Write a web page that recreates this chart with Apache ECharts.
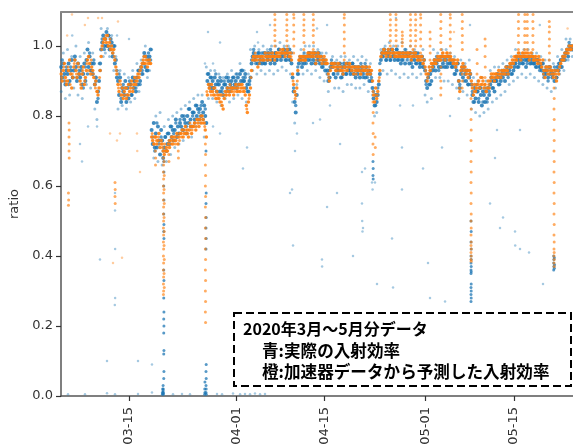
<!DOCTYPE html>
<html><head><meta charset="utf-8">
<script src="https://cdn.jsdelivr.net/npm/echarts/dist/echarts.min.js"></script>
<style>html,body{margin:0;padding:0;background:#fff}#c{width:573px;height:448px}</style>
</head><body><div id="c"></div>
<script>
// ---------- data (x in days since 2020-03-01 00:00 UTC for point lists) ----------
const tickDates = ['2020-03-15','2020-04-01','2020-04-15','2020-05-01','2020-05-15'];
const yTicks = [0, 0.2, 0.4, 0.6, 0.8, 1.0];
const coreStart = '2020-03-04T06:00:00Z';
const coreStepHours = 4;
const spreadStepHours = 8;

// blue (actual) dense band, one value every 4 h from coreStart, one row per day (Mar 4 ... May 24)
const blueCore = [
0.94,0.91,0.95,0.92,0.89,0.93,
0.92,0.95,0.90,0.93,0.96,0.91,
0.93,0.97,0.94,0.90,0.95,0.92,
0.91,0.94,0.89,0.92,0.95,0.90,
0.96,0.99,0.94,0.97,0.93,0.95,
0.92,0.95,0.89,0.91,0.84,0.87,
0.90,0.95,0.99,1.01,1.03,1.00,
1.02,1.04,1.00,1.03,0.99,1.02,
1.01,0.97,1.00,0.95,0.96,0.91,
0.90,0.86,0.91,0.84,0.88,0.87,
0.86,0.90,0.84,0.88,0.85,0.89,
0.89,0.86,0.91,0.88,0.90,0.87,
0.91,0.89,0.93,0.90,0.94,0.92,
0.95,0.98,0.94,0.97,0.93,0.96,
0.97,0.99,0.76,0.72,0.78,0.71,
0.75,0.71,0.77,0.73,0.69,0.76,
0.73,0.68,0.71,0.74,0.70,0.72,
0.75,0.72,0.77,0.74,0.76,0.73,
0.76,0.79,0.74,0.77,0.75,0.78,
0.77,0.80,0.76,0.79,0.78,0.75,
0.80,0.78,0.82,0.79,0.77,0.81,
0.81,0.79,0.83,0.80,0.82,0.79,
0.82,0.80,0.84,0.81,0.83,0.80,
0.78,0.90,0.92,0.89,0.91,0.88,
0.90,0.88,0.91,0.89,0.87,0.90,
0.89,0.87,0.90,0.88,0.86,0.89,
0.89,0.91,0.88,0.90,0.87,0.89,
0.90,0.88,0.91,0.89,0.90,0.88,
0.91,0.89,0.92,0.90,0.93,0.90,
0.90,0.92,0.88,0.89,0.87,0.90,
0.91,0.95,0.97,0.98,0.96,0.97,
0.97,0.95,0.98,0.96,0.97,0.95,
0.96,0.98,0.95,0.97,0.96,0.98,
0.97,0.95,0.98,0.96,0.97,0.95,
0.98,0.96,0.97,0.99,0.97,0.96,
0.98,0.97,0.99,0.98,0.96,0.98,
0.97,0.99,0.96,0.95,0.91,0.87,
0.84,0.81,0.86,0.92,0.95,0.96,
0.96,0.94,0.97,0.95,0.96,0.97,
0.97,0.96,0.98,0.97,0.95,0.97,
0.96,0.98,0.95,0.97,0.96,0.98,
0.95,0.97,0.94,0.96,0.95,0.93,
0.95,0.93,0.90,0.91,0.94,0.95,
0.94,0.92,0.95,0.91,0.93,0.94,
0.93,0.95,0.91,0.94,0.92,0.95,
0.94,0.92,0.95,0.93,0.94,0.92,
0.93,0.95,0.92,0.94,0.91,0.93,
0.92,0.94,0.91,0.93,0.94,0.92,
0.93,0.91,0.94,0.92,0.93,0.90,
0.92,0.90,0.88,0.85,0.83,0.86,
0.84,0.86,0.89,0.92,0.96,0.98,
0.97,0.99,0.98,0.96,0.98,0.97,
0.98,0.96,0.99,0.97,0.98,0.96,
0.97,0.99,0.96,0.98,0.97,0.95,
0.96,0.98,0.97,0.95,0.98,0.97,
0.97,0.95,0.98,0.96,0.94,0.97,
0.96,0.98,0.95,0.97,0.96,0.94,
0.95,0.97,0.94,0.96,0.93,0.90,
0.88,0.91,0.89,0.92,0.90,0.93,
0.94,0.96,0.93,0.95,0.96,0.94,
0.96,0.94,0.97,0.95,0.96,0.94,
0.96,0.94,0.97,0.95,0.96,0.95,
0.94,0.95,0.92,0.94,0.93,0.95,
0.90,0.88,0.92,0.93,0.91,0.94,
0.92,0.90,0.93,0.89,0.91,0.92,
0.89,0.86,0.84,0.88,0.85,0.87,
0.87,0.84,0.88,0.86,0.83,0.87,
0.86,0.84,0.87,0.85,0.88,0.86,
0.89,0.91,0.88,0.90,0.87,0.90,
0.90,0.92,0.89,0.91,0.90,0.92,
0.91,0.93,0.90,0.92,0.94,0.92,
0.93,0.94,0.92,0.95,0.93,0.94,
0.95,0.97,0.94,0.96,0.95,0.97,
0.96,0.95,0.97,0.96,0.94,0.96,
0.96,0.97,0.95,0.96,0.97,0.95,
0.95,0.96,0.94,0.96,0.95,0.94,
0.94,0.93,0.95,0.92,0.93,0.92,
0.93,0.91,0.94,0.92,0.93,0.91,
0.92,0.90,0.93,0.91,0.94,0.93,
0.95,0.96,0.94,0.96,0.97,0.96,
0.98,0.99,0.97,1.00,0.99,1.00,
0.99,1.00
];

// orange (predicted) dense band, one value every 4 h from coreStart
const orangeCore = [
0.92,0.90,0.93,0.95,0.91,0.89,
0.90,0.93,0.96,0.92,0.88,0.91,
0.94,0.96,0.93,0.91,0.95,0.92,
0.90,0.88,0.92,0.94,0.89,0.91,
0.93,0.96,0.97,0.95,0.92,0.94,
0.93,0.91,0.89,0.90,0.87,0.86,
0.88,0.93,0.97,1.00,1.01,1.02,
1.02,1.01,1.03,1.00,1.01,0.99,
1.00,0.98,0.99,0.96,0.94,0.92,
0.89,0.87,0.90,0.86,0.88,0.85,
0.87,0.88,0.85,0.86,0.89,0.87,
0.88,0.90,0.87,0.89,0.91,0.89,
0.90,0.92,0.91,0.93,0.94,0.95,
0.96,0.95,0.97,0.96,0.94,0.95,
0.96,0.95,0.74,0.73,0.72,0.74,
0.74,0.72,0.73,0.75,0.71,0.73,
0.72,0.70,0.69,0.70,0.71,0.70,
0.72,0.71,0.73,0.74,0.72,0.73,
0.74,0.73,0.75,0.72,0.74,0.75,
0.75,0.76,0.74,0.75,0.77,0.75,
0.76,0.74,0.76,0.77,0.75,0.77,
0.77,0.78,0.76,0.79,0.78,0.77,
0.79,0.78,0.80,0.79,0.78,0.76,
0.74,0.86,0.89,0.88,0.87,0.89,
0.87,0.86,0.88,0.85,0.87,0.86,
0.85,0.84,0.86,0.83,0.82,0.85,
0.87,0.86,0.88,0.87,0.86,0.88,
0.87,0.88,0.86,0.88,0.89,0.87,
0.88,0.89,0.87,0.88,0.89,0.88,
0.87,0.86,0.83,0.81,0.84,0.86,
0.88,0.93,0.96,0.97,0.96,0.97,
0.96,0.94,0.97,0.96,0.97,0.96,
0.97,0.96,0.98,0.97,0.96,0.97,
0.97,0.96,0.97,0.98,0.97,0.96,
0.97,0.98,0.97,0.98,0.97,0.98,
0.98,0.99,0.98,0.97,0.98,0.99,
0.98,0.97,0.98,0.96,0.92,0.89,
0.87,0.86,0.88,0.93,0.96,0.97,
0.96,0.97,0.96,0.97,0.96,0.97,
0.97,0.98,0.97,0.98,0.97,0.98,
0.97,0.98,0.95,0.97,0.98,0.97,
0.96,0.97,0.95,0.96,0.97,0.95,
0.96,0.95,0.92,0.90,0.93,0.95,
0.95,0.94,0.95,0.93,0.94,0.95,
0.94,0.93,0.94,0.93,0.92,0.94,
0.94,0.95,0.93,0.94,0.95,0.94,
0.93,0.94,0.92,0.94,0.93,0.94,
0.93,0.94,0.93,0.92,0.94,0.93,
0.94,0.93,0.94,0.92,0.93,0.94,
0.92,0.93,0.90,0.86,0.84,0.88,
0.85,0.87,0.90,0.93,0.97,0.98,
0.98,0.99,0.98,0.97,0.98,0.99,
0.98,0.97,0.98,0.99,0.98,0.97,
0.98,0.97,0.98,0.97,0.98,0.97,
0.97,0.98,0.97,0.98,0.97,0.98,
0.98,0.97,0.98,0.96,0.97,0.98,
0.97,0.98,0.97,0.96,0.97,0.96,
0.96,0.97,0.95,0.96,0.94,0.92,
0.90,0.92,0.94,0.93,0.95,0.94,
0.95,0.96,0.95,0.96,0.97,0.96,
0.97,0.96,0.97,0.98,0.97,0.96,
0.97,0.98,0.97,0.96,0.97,0.96,
0.96,0.95,0.96,0.94,0.95,0.96,
0.90,0.87,0.93,0.94,0.95,0.93,
0.94,0.92,0.93,0.91,0.93,0.92,
0.90,0.88,0.86,0.89,0.87,0.88,
0.89,0.90,0.88,0.91,0.89,0.90,
0.88,0.89,0.87,0.88,0.90,0.88,
0.90,0.92,0.91,0.92,0.90,0.92,
0.92,0.91,0.93,0.92,0.91,0.93,
0.92,0.93,0.92,0.94,0.93,0.92,
0.94,0.95,0.94,0.96,0.95,0.96,
0.97,0.96,0.97,0.98,0.97,0.96,
0.97,0.98,0.97,0.98,0.97,0.98,
0.97,0.96,0.97,0.98,0.97,0.96,
0.96,0.97,0.96,0.95,0.97,0.96,
0.95,0.94,0.96,0.93,0.91,0.94,
0.93,0.94,0.92,0.94,0.93,0.92,
0.91,0.93,0.92,0.90,0.93,0.92,
0.94,0.95,0.96,0.97,0.96,0.97,
0.98,0.99,0.98,1.00,0.99,0.99,
1.00,0.99
];

// extra orange samples, one every 8 h starting 2020-03-04 08:00
const orangeExtraStart = '2020-03-04T08:00:00Z';
const orangeExtra = [
0.91,0.94,0.90, 0.94,0.89,0.92, 0.95,0.92,0.94, 0.89,0.93,0.90, 0.95,0.93,0.96,
0.92,0.88,0.87, 0.91,0.99,1.02, 1.03,1.00,1.02, 0.99,0.97,0.93, 0.88,0.89,0.86,
0.86,0.88,0.86, 0.89,0.88,0.90, 0.91,0.92,0.94, 0.97,0.95,0.96, 0.95,0.75,0.72,
0.73,0.74,0.72, 0.71,0.72,0.70, 0.73,0.72,0.74, 0.72,0.74,0.73, 0.74,0.76,0.76,
0.75,0.78,0.76, 0.78,0.77,0.79, 0.80,0.78,0.77, 0.87,0.88,0.86, 0.88,0.86,0.85,
0.86,0.84,0.86, 0.86,0.87,0.89, 0.88,0.87,0.88, 0.87,0.89,0.87, 0.88,0.82,0.85,
0.91,0.97,0.98, 0.97,0.95,0.97, 0.96,0.97,0.98, 0.98,0.97,0.97, 0.98,0.97,0.99,
0.99,0.98,0.98, 0.97,0.97,0.90, 0.85,0.90,0.96, 0.97,0.96,0.96, 0.98,0.97,0.98,
0.98,0.96,0.98, 0.97,0.96,0.96, 0.95,0.91,0.94, 0.94,0.94,0.93, 0.95,0.93,0.93,
0.93,0.94,0.95, 0.94,0.93,0.92, 0.94,0.92,0.93, 0.93,0.93,0.92, 0.93,0.87,0.86,
0.86,0.91,0.97, 0.99,0.98,0.98, 0.97,0.99,0.98, 0.97,0.98,0.98, 0.98,0.97,0.97,
0.97,0.97,0.99, 0.98,0.96,0.97, 0.97,0.95,0.93, 0.91,0.93,0.95, 0.96,0.95,0.96,
0.96,0.98,0.97, 0.98,0.97,0.97, 0.95,0.95,0.95, 0.88,0.94,0.94, 0.93,0.92,0.93,
0.89,0.87,0.88, 0.90,0.89,0.91, 0.89,0.87,0.89, 0.91,0.91,0.91, 0.91,0.92,0.92,
0.93,0.93,0.93, 0.95,0.95,0.97, 0.96,0.98,0.97, 0.98,0.97,0.97, 0.98,0.97,0.97,
0.97,0.96,0.96, 0.94,0.92,0.93, 0.92,0.93,0.93, 0.92,0.91,0.93, 0.95,0.96,0.98,
0.99,0.99,1.00, 1.00
];

// blue lighter spread around the band, one value every 8 h from coreStart
const blueSpread = [
0.87,0.98,0.85, 0.99,0.86,0.97, 0.88,1.00,0.86, 0.97,0.85,0.98, 0.89,1.01,0.88,
0.98,0.82,0.79, 0.95,1.05,0.97, 0.98,1.05,0.97, 1.03,0.93,0.97, 0.82,0.93,0.83,
0.92,0.82,0.91, 0.84,0.93,0.85, 0.95,0.87,0.96, 0.92,1.00,0.91, 0.93,0.99,0.68,
0.80,0.67,0.81, 0.66,0.77,0.67, 0.79,0.69,0.80, 0.71,0.81,0.72, 0.82,0.73,0.83,
0.75,0.84,0.74, 0.85,0.77,0.86, 0.78,0.86,0.74, 0.94,0.85,0.93, 0.85,0.93,0.84,
0.92,0.83,0.91, 0.85,0.92,0.84, 0.93,0.85,0.92, 0.86,0.95,0.85, 0.93,0.84,0.92,
0.99,0.93,1.00, 0.92,0.99,0.93, 1.00,0.92,0.99, 0.93,1.00,0.92, 1.00,0.93,1.01,
0.94,1.00,0.93, 1.00,0.92,0.84, 0.78,0.89,0.92, 0.99,0.92,1.00, 0.93,1.00,0.92,
1.00,0.93,0.99, 0.91,0.98,0.90, 0.98,0.87,0.91, 0.97,0.88,0.96, 0.88,0.97,0.87,
0.97,0.89,0.96, 0.89,0.97,0.88, 0.96,0.88,0.97, 0.89,0.96,0.87, 0.95,0.86,0.80,
0.81,0.90,0.99, 0.93,1.00,0.92, 1.01,0.93,1.00, 0.92,1.00,0.91, 1.01,0.92,0.99,
0.91,1.00,0.92, 0.99,0.91,0.98, 0.92,0.99,0.86, 0.84,0.94,0.85, 0.99,0.91,0.98,
0.91,0.99,0.90, 0.99,0.90,0.98, 0.89,0.97,0.88, 0.85,0.96,0.87, 0.95,0.86,0.96,
0.82,0.91,0.81, 0.90,0.80,0.91, 0.81,0.90,0.82, 0.93,0.84,0.94, 0.85,0.94,0.86,
0.95,0.87,0.96, 0.89,0.97,0.90, 0.99,0.91,0.98, 0.92,0.99,0.91, 0.99,0.92,0.98,
0.91,0.98,0.90, 0.97,0.89,0.96, 0.88,0.96,0.87, 0.95,0.88,0.97, 0.92,0.99,0.93,
1.02,0.96,1.02, 0.97
];

// extra blue samples, one every 8 h starting 2020-03-04 10:00
const blueExtraStart = '2020-03-04T10:00:00Z';
const blueExtra = [
0.96,0.90,0.94, 0.89,0.94,0.91, 0.96,0.91,0.93, 0.93,0.88,0.94, 0.92,0.98,0.93,
0.96,0.90,0.85, 0.93,1.02,0.99, 1.00,1.03,1.00, 0.98,1.00,0.93, 0.92,0.85,0.89,
0.88,0.86,0.90, 0.86,0.90,0.88, 0.93,0.89,0.93, 0.97,0.93,0.98, 0.96,0.74,0.70,
0.78,0.72,0.74, 0.70,0.74,0.75, 0.73,0.77,0.75, 0.78,0.75,0.79, 0.76,0.80,0.77,
0.82,0.77,0.80, 0.78,0.83,0.81, 0.83,0.79,0.82, 0.92,0.88,0.91, 0.88,0.92,0.89,
0.91,0.87,0.90, 0.87,0.91,0.88, 0.91,0.88,0.92, 0.89,0.93,0.91, 0.91,0.87,0.89,
0.96,0.99,0.95, 0.98,0.95,0.98, 0.95,0.98,0.96, 0.99,0.96,0.98, 0.96,0.99,0.97,
0.99,0.96,0.99, 0.96,0.98,0.88, 0.83,0.94,0.97, 0.95,0.98,0.95, 0.98,0.96,0.98,
0.95,0.98,0.96, 0.97,0.94,0.96, 0.92,0.93,0.96, 0.92,0.95,0.92, 0.95,0.91,0.94,
0.92,0.95,0.93, 0.95,0.92,0.94, 0.93,0.95,0.91, 0.95,0.91,0.93, 0.91,0.87,0.83,
0.88,0.95,0.97, 0.99,0.96,0.99, 0.96,0.99,0.97, 0.99,0.96,0.98, 0.96,0.99,0.96,
0.98,0.95,0.98, 0.95,0.98,0.95, 0.97,0.94,0.89, 0.92,0.89,0.94, 0.95,0.97,0.93,
0.97,0.94,0.97, 0.95,0.97,0.94, 0.96,0.92,0.95, 0.89,0.94,0.90, 0.93,0.89,0.92,
0.87,0.84,0.89, 0.85,0.88,0.84, 0.88,0.84,0.87, 0.90,0.88,0.91, 0.91,0.89,0.93,
0.92,0.94,0.91, 0.95,0.92,0.95, 0.96,0.94,0.97, 0.95,0.97,0.95, 0.97,0.95,0.96,
0.94,0.96,0.93, 0.95,0.91,0.94, 0.90,0.94,0.92, 0.94,0.91,0.95, 0.94,0.97,0.98,
0.98,1.01,0.99, 1.00
];

// vertical runs of points: [day, [values...]]
const blueDips = [
[19.50,[0.67,0.64,0.60,0.56,0.52,0.49,0.47,0.45,0.36,0.33,0.28,0.24,0.22,0.20,0.18,0.13,0.12,0.07,0.05]],
[19.40,[0.03,0.02,0.015,0.01,0.008,0.005]],
[19.30,[0.01,0.02,0.005]],
[26.20,[0.70,0.58,0.55,0.51,0.48,0.45,0.42,0.09,0.07,0.05,0.03,0.02,0.01,0.005]],
[26.00,[0.02,0.01,0.005,0.04]],
[52.66,[0.67,0.65,0.63,0.62]],
[68.20,[0.50,0.47,0.44,0.42,0.40,0.39,0.38,0.37,0.36,0.355,0.35,0.32,0.31,0.30,0.29,0.28,0.27]],
[81.30,[0.40,0.39,0.38,0.37,0.36]],
[81.40,[0.395,0.375,0.365]]
];
const orangeDips = [
[4.49,[0.78,0.76,0.74,0.72,0.70,0.68]],
[4.40,[0.58,0.56,0.545]],
[11.78,[0.61,0.59,0.57,0.55]],
[18.20,[0.70,0.68,0.66]],
[20.30,[0.69,0.67]],
[21.80,[0.70,0.68]],
[19.45,[0.68,0.66,0.64,0.62,0.60,0.58,0.56,0.54,0.52,0.50,0.48,0.46,0.44,0.42,0.40,0.38,0.36,0.34,0.32,0.30,0.29]],
[19.55,[0.67,0.63,0.59,0.55,0.51,0.47,0.43,0.39,0.35,0.31]],
[26.10,[0.72,0.69,0.66,0.63,0.60,0.57,0.54,0.51,0.48,0.45,0.42,0.39,0.36,0.33,0.30,0.27,0.24,0.21]],
[52.66,[0.84,0.81,0.78,0.75,0.72,0.69]],
[53.00,[0.74,0.71]],
[68.20,[0.85,0.82,0.79,0.76,0.73,0.70,0.67,0.64,0.61,0.58,0.55,0.52,0.50,0.48,0.46,0.44,0.43,0.42,0.41,0.40,0.39,0.385]],
[81.35,[0.88,0.85,0.82,0.79,0.76,0.73,0.70,0.67,0.64,0.61,0.58,0.55,0.52,0.49,0.46,0.44,0.42,0.41,0.40,0.39,0.38,0.37]]
];
const orangeSpikes = [
[37.10,[1.00,1.015,1.03,1.045,1.06,1.075,1.09]],
[39.00,[1.00,1.015,1.03,1.045,1.06,1.075,1.09]],
[40.10,[0.98,1.00,1.02,1.04,1.06,1.08,1.09]],
[41.70,[0.99,1.01,1.03,1.045,1.06,1.075,1.09]],
[43.20,[0.99,1.01,1.03,1.045,1.06,1.075,1.09]],
[48.10,[0.96,0.98,1.00,1.02,1.04,1.06,1.08,1.09]],
[55.40,[1.00,1.015,1.03,1.045,1.06,1.075,1.09]],
[56.30,[1.00,1.015,1.03,1.045,1.06,1.075,1.09]],
[57.30,[1.00,1.01,1.02,1.03,1.04]],
[58.60,[1.00,1.015,1.03,1.045,1.06,1.075,1.09]],
[59.40,[1.00,1.015,1.03,1.045,1.06,1.075,1.09]],
[60.20,[0.98,1.00,1.02,1.04,1.06,1.08,1.09]],
[61.70,[0.96,0.98,1.00,1.02,1.04]],
[63.40,[0.86,0.88,0.90,0.92,0.94,0.99,1.01,1.03,1.05,1.07,1.09]],
[64.90,[0.98,1.00,1.02,1.04,1.06,1.08,1.09]],
[66.80,[0.88,0.90,0.92,0.99,1.01,1.03,1.05,1.07,1.09]],
[69.15,[0.92,0.95,0.99]],
[70.42,[0.91,0.94,0.97,1.00,1.02]],
[75.70,[0.99,1.01,1.03,1.05,1.07,1.09]],
[76.70,[0.99,1.01,1.03,1.05,1.07,1.09]],
[77.10,[0.99,1.01,1.03,1.05,1.07,1.09]],
[78.00,[0.99,1.01,1.03,1.05,1.07,1.09]],
[80.60,[0.96,0.98,1.00,1.02,1.04,1.055,1.07]]
];
// isolated points: [day, value]
const blueScatter = [
[9.40,0.39],[11.78,0.58],[11.78,0.53],[11.80,0.42],[11.80,0.28],[11.75,0.26],[6.23,0.72],[6.55,0.67],
[8.93,0.77],[7.50,0.77],[10.51,0.10],[15.42,0.10],[17.64,0.09],[39.83,0.59],[46.96,0.58],[45.38,0.54],
[50.92,0.55],[50.95,0.50],[51.08,0.48],[51.00,0.47],[39.99,0.43],[49.50,0.40],[44.58,0.39],[44.60,0.37],
[53.30,0.32],[52.51,0.61],[52.60,0.59],[52.98,0.61],[57.26,0.59],[55.68,0.45],[61.38,0.38],[55.84,0.31],
[61.70,0.28],[64.08,0.27],[71.21,0.55],[73.27,0.51],[72.79,0.48],[75.17,0.47],[75.20,0.43],[75.96,0.42],
[77.39,0.41],[79.61,0.32],[57.26,0.71],[63.60,0.71],[60.59,0.65],[72.00,0.68],[72.32,0.76],[64.87,0.80],
[56.95,0.83],[59.00,0.83],[75.96,0.76],[39.51,0.58],[40.30,0.70],[40.62,0.75],[47.44,0.72],[43.16,0.78],
[44.27,0.79],[45.85,0.83],[50.92,0.64],[51.40,0.65],[28.42,0.75],[27.31,0.77],[32.70,0.71],[32.06,0.65],
[26.04,0.95],[27.31,0.95],[28.42,1.01],[26.52,1.04],[34.28,1.04],[34.44,1.01],[36.34,1.06],[45.38,1.06],
[43.79,1.05],[56.30,1.08],[68.04,1.06],[79.10,1.06],[5.00,1.03],[12.10,1.03],[14.00,1.02],
[4.33,0.005],[7.02,0.005],[10.51,0.008],[11.78,0.005],[15.42,0.006],[17.64,0.01],[20.97,0.005],[22.40,0.006],
[23.66,0.005],[27.94,0.006],[28.74,0.005],[30.48,0.007],[31.60,0.005],[32.38,0.006],[33.17,0.005],
[33.96,0.007],[34.76,0.005],[35.55,0.006]
];
const orangeScatter = [
[4.96,1.09],[7.50,1.08],[9.72,1.08],[12.25,1.07],[15.26,0.75],[15.30,0.70],[15.74,0.64],[10.99,0.75],
[12.57,0.75],[12.09,0.73],[11.46,0.38],[12.89,0.395],[4.20,1.03],[7.00,1.06],[9.10,1.08],[65.50,1.04],
[83.50,1.05]
];

// ---------- build ----------
const DAY = 86400000;
const ORIGIN = Date.UTC(2020, 2, 1);
const tsOfDay = d => ORIGIN + d * DAY;
const seq = (start, arr, stepH) => { const s = Date.parse(start); return arr.map((v, i) => [s + i * stepH * 3600000, v]); };
const pairs = arr => arr.map(p => [tsOfDay(p[0]), p[1]]);
const runs = arr => { const out = []; arr.forEach(r => r[1].forEach((v, k) => out.push([tsOfDay(r[0] + (k % 2) * 0.03), v]))); return out; };
const tickTs = tickDates.map(s => Date.parse(s + 'T00:00:00Z'));
const xMin = tsOfDay(3.22), xMax = tsOfDay(84.36);
const fmtDate = v => { const d = new Date(v); return String(d.getUTCMonth() + 1).padStart(2, '0') + '-' + String(d.getUTCDate()).padStart(2, '0'); };

const BLUE = '#1f77b4', ORANGE = '#ff7f0e';
const FONT = 'DejaVu Sans';
const CJK = '"Noto Sans CJK JP"';
const sc = (data, color, size, op) => ({ type: 'scatter', data, symbolSize: size, silent: true, animation: false,
  itemStyle: { color, opacity: op }, clip: true });

const chart = echarts.init(document.getElementById('c'), null, { renderer: 'canvas' });
chart.setOption({
  animation: false,
  grid: { left: 61, right: 0, top: 12, bottom: 52 },
  xAxis: [{
    type: 'value', min: xMin, max: xMax, position: 'bottom',
    axisLine: { show: true, onZero: false, lineStyle: { color: '#555', width: 1.5 } },
    axisTick: { show: true, customValues: tickTs, length: 5, lineStyle: { color: '#333', width: 1.2 } },
    axisLabel: { customValues: tickTs, rotate: 90, formatter: fmtDate, fontSize: 13, color: '#333', fontFamily: FONT, margin: 11 },
    splitLine: { show: false }
  }, {
    type: 'value', min: xMin, max: xMax, position: 'top',
    axisLine: { show: true, onZero: false, lineStyle: { color: '#888', width: 2 } },
    axisTick: { show: false }, axisLabel: { show: false }, splitLine: { show: false }
  }],
  yAxis: {
    type: 'value', min: 0, max: 1.097,
    name: 'ratio', nameLocation: 'middle', nameGap: 31, nameRotate: 90,
    nameTextStyle: { fontSize: 13, color: '#333', fontFamily: FONT },
    axisLine: { show: true, onZero: false, lineStyle: { color: '#555', width: 1.5 } },
    axisTick: { show: true, customValues: yTicks, length: 5, lineStyle: { color: '#333', width: 1.2 } },
    axisLabel: { customValues: yTicks, formatter: v => v.toFixed(1), fontSize: 13, color: '#333', fontFamily: FONT, margin: 8 },
    splitLine: { show: false }
  },
  series: [
    sc(seq(coreStart, blueSpread, spreadStepHours), BLUE, 3, 0.45),
    sc(pairs(blueScatter), BLUE, 2.5, 0.4),
    sc(seq(blueExtraStart, blueExtra, spreadStepHours), BLUE, 3.5, 0.75),
    sc(runs(blueDips), BLUE, 3, 0.75),
    sc(seq(coreStart, blueCore, coreStepHours), BLUE, 4, 0.85),
    sc(runs(orangeSpikes), ORANGE, 3, 0.65),
    sc(runs(orangeDips), ORANGE, 3, 0.65),
    sc(pairs(orangeScatter), ORANGE, 2.5, 0.4),
    sc(seq(orangeExtraStart, orangeExtra, spreadStepHours), ORANGE, 3, 0.75),
    sc(seq(coreStart, orangeCore, coreStepHours), ORANGE, 3.5, 0.9)
  ],
  graphic: [
    { type: 'rect', z: 100, shape: { x: 234, y: 313, width: 337, height: 73 },
      style: { fill: '#fff', stroke: '#000', lineWidth: 2, lineDash: [8, 4] } },
    { type: 'text', z: 101, style: { x: 243, y: 329, text: '2020年3月～5月分データ', verticalAlign: 'middle',
      font: 'bold 16px ' + CJK, fill: '#000' } },
    { type: 'text', z: 101, style: { x: 262, y: 351, text: '青:実際の入射効率', verticalAlign: 'middle',
      font: 'bold 16.6px ' + CJK, fill: '#000' } },
    { type: 'text', z: 101, style: { x: 262, y: 372, text: '橙:加速器データから予測した入射効率', verticalAlign: 'middle',
      font: 'bold 16.6px ' + CJK, fill: '#000' } }
  ]
});
</script>
</body></html>
